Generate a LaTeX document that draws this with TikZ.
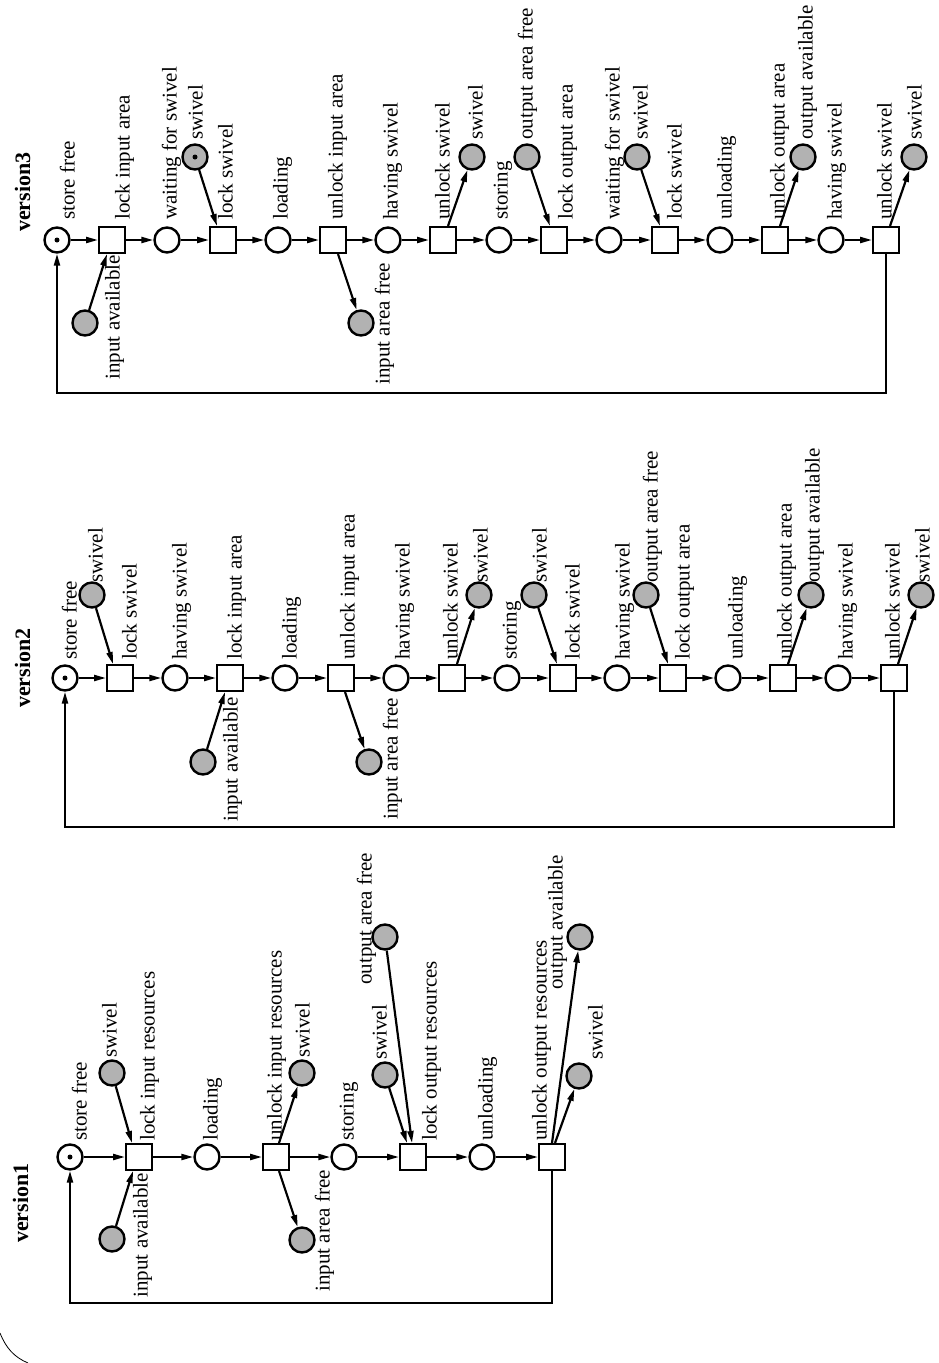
\documentclass[tikz,border=0pt]{standalone}
\usepackage{fontspec}
\setmainfont{Liberation Serif}
\usetikzlibrary{arrows.meta}
\begin{document}
\begin{tikzpicture}[x=1pt,y=-1pt,
  pl/.style={circle,draw,line width=2.4pt,minimum size=25pt,inner sep=0pt,fill=white},
  gpl/.style={pl,fill=black!30},
  tr/.style={rectangle,draw,line width=2.4pt,minimum size=25.6pt,inner sep=0pt,fill=white},
  arc/.style={line width=2.2pt,-{Triangle[length=12pt,width=6pt]}},
  lab/.style={rotate=90,anchor=north west,inner sep=0pt,font=\fontsize{21}{25}\selectfont,text height=14.5pt,text depth=4.6pt},
  labb/.style={lab,anchor=north east},
  ver/.style={lab,font=\fontsize{22}{26}\selectfont\bfseries,text height=15pt},
  tok/.style={circle,fill=black,inner sep=0pt,minimum size=5pt}
]
\useasboundingbox (0,0) rectangle (938,1363);
\draw[line width=0.8pt] (0,1333) .. controls (6,1348) and (14,1357) .. (28,1363);

% ================= version1 =================
\node[ver] (v1) at (13,1243) {version1};
\foreach \x/\s [count=\i from 0] in {70/pl,139/tr,207/pl,276/tr,344/pl,413/tr,482/pl,552/tr}
  \node[\s] (a\i) at (\x,1157) {};
\node[tok] (a0t) at (a0) {};
\foreach \i in {0,...,6} {\pgfmathtruncatemacro\j{\i+1}\draw[arc] (a\i) -- (a\j);}
\foreach \i/\a/\t in {0/72/store free,1/140/lock input resources,2/203/loading,3/267/unlock input resources,4/339/storing,5/422/lock output resources,6/478/unloading,7/532/unlock output resources}
  \node[lab] (al\i) at (\a,1141) {\t};
\node[gpl] (as1) at (112,1073) {};
\node[gpl] (as2) at (112,1239) {};
\node[gpl] (as3) at (302,1073) {};
\node[gpl] (as4) at (302,1240) {};
\node[gpl] (as5) at (385,1075) {};
\node[gpl] (as6) at (385,937) {};
\node[gpl] (as7) at (579,1076) {};
\node[gpl] (as8) at (580,937) {};
\node[lab] (asl1) at (102,1058) {swivel};
\node[labb] (asl2) at (133,1173) {input available};
\node[lab] (asl3) at (295,1058) {swivel};
\node[labb] (asl4) at (315,1170) {input area free};
\node[lab] (asl5) at (372,1060) {swivel};
\node[lab] (asl6) at (357,985) {output area free};
\node[lab] (asl7) at (588,1060) {swivel};
\node[lab] (asl8) at (548,990) {output available};
\draw[arc] (as1) -- ([xshift=-7pt]a1.north);
\draw[arc] (as2) -- ([xshift=-6pt]a1.south);
\draw[arc] ([xshift=3pt]a3.north) -- (as3);
\draw[arc] ([xshift=3pt]a3.south) -- (as4);
\draw[arc] (as5) -- ([xshift=-6pt]a5.north);
\draw[arc] (as6) -- ([xshift=-1pt]a5.north);
\draw[arc] ([xshift=3pt]a7.north) -- (as7);
\draw[arc] (a7.north) -- (as8);
\coordinate (aret) at (70,1303);
\draw[arc] (a7.south) |- (aret) -- (a0.south);

% ================= version2 =================
\node[ver] (v2) at (15,708) {version2};
\foreach \x [count=\i from 0] in {65,120,175,230,285,341,396,452,507,563,617,673,728,783,838,894} {
  \ifodd\i \node[tr] (b\i) at (\x,678) {}; \else \node[pl] (b\i) at (\x,678) {}; \fi
}
\node[tok] (b0t) at (b0) {};
\foreach \i in {0,...,14} {\pgfmathtruncatemacro\j{\i+1}\draw[arc] (b\i) -- (b\j);}
\foreach \i/\a/\t in {0/62/store free,1/122/lock swivel,2/172/having swivel,3/227/lock input area,4/282/loading,5/340/unlock input area,6/395/having swivel,7/443/unlock swivel,8/502/storing,9/565/lock swivel,10/615/having swivel,11/675/lock output area,12/728/unloading,13/777/unlock output area,14/838/having swivel,15/885/unlock swivel}
  \node[lab] (bl\i) at (\a,660) {\t};
\node[gpl] (bs1) at (92,595) {};
\node[gpl] (bs2) at (203,762) {};
\node[gpl] (bs3) at (369,762) {};
\node[gpl] (bs4) at (479,595) {};
\node[gpl] (bs5) at (534,595) {};
\node[gpl] (bs6) at (646,595) {};
\node[gpl] (bs7) at (811,595) {};
\node[gpl] (bs8) at (921,595) {};
\node[lab] (bsl1) at (88,583) {swivel};
\node[labb] (bsl2) at (223,697) {input available};
\node[labb] (bsl3) at (383,698) {input area free};
\node[lab] (bsl4) at (473,583) {swivel};
\node[lab] (bsl5) at (532,583) {swivel};
\node[lab] (bsl6) at (643,583) {output area free};
\node[lab] (bsl7) at (805,583) {output available};
\node[lab] (bsl8) at (915,583) {swivel};
\draw[arc] (bs1) -- ([xshift=-7pt]b1.north);
\draw[arc] (bs2) -- ([xshift=-5pt]b3.south);
\draw[arc] ([xshift=4pt]b5.south) -- (bs3);
\draw[arc] ([xshift=5pt]b7.north) -- (bs4);
\draw[arc] (bs5) -- ([xshift=-6pt]b9.north);
\draw[arc] (bs6) -- ([xshift=-5pt]b11.north);
\draw[arc] ([xshift=5pt]b13.north) -- (bs7);
\draw[arc] ([xshift=4pt]b15.north) -- (bs8);
\coordinate (bret) at (65,827);
\draw[arc] (b15.south) |- (bret) -- (b0.south);

% ================= version3 =================
\node[ver] (v3) at (15,232) {version3};
\foreach \x [count=\i from 0] in {57,112,167,223,278,333,388,443,499,554,609,665,720,775,831,886} {
  \ifodd\i \node[tr] (c\i) at (\x,240) {}; \else \node[pl] (c\i) at (\x,240) {}; \fi
}
\node[tok] (c0t) at (c0) {};
\foreach \i in {0,...,14} {\pgfmathtruncatemacro\j{\i+1}\draw[arc] (c\i) -- (c\j);}
\foreach \i/\a/\t in {0/60/store free,1/115/lock input area,2/162/waiting for swivel,3/218/lock swivel,4/273/loading,5/328/unlock input area,6/383/having swivel,7/435/unlock swivel,8/493/storing,9/558/lock output area,10/605/waiting for swivel,11/667/lock swivel,12/717/unloading,13/770/unlock output area,14/827/having swivel,15/877/unlock swivel}
  \node[lab] (cl\i) at (\a,220) {\t};
\node[gpl] (cs1) at (85,323) {};
\node[gpl] (cs2) at (195,157) {};
\node[tok] (cs2t) at (cs2) {};
\node[gpl] (cs3) at (361,323) {};
\node[gpl] (cs4) at (472,157) {};
\node[gpl] (cs5) at (527,157) {};
\node[gpl] (cs6) at (637,157) {};
\node[gpl] (cs7) at (803,157) {};
\node[gpl] (cs8) at (914,157) {};
\node[labb] (csl1) at (105,255) {input available};
\node[lab] (csl2) at (188,140) {swivel};
\node[labb] (csl3) at (375,263) {input area free};
\node[lab] (csl4) at (468,140) {swivel};
\node[lab] (csl5) at (518,140) {output area free};
\node[lab] (csl6) at (633,140) {swivel};
\node[lab] (csl7) at (798,140) {output available};
\node[lab] (csl8) at (907,140) {swivel};
\draw[arc] (cs1) -- ([xshift=-5pt]c1.south);
\draw[arc] (cs2) -- ([xshift=-6pt]c3.north);
\draw[arc] ([xshift=5pt]c5.south) -- (cs3);
\draw[arc] ([xshift=5pt]c7.north) -- (cs4);
\draw[arc] (cs5) -- ([xshift=-4pt]c9.north);
\draw[arc] (cs6) -- ([xshift=-5pt]c11.north);
\draw[arc] ([xshift=5pt]c13.north) -- (cs7);
\draw[arc] ([xshift=4pt]c15.north) -- (cs8);
\coordinate (cret) at (57,393);
\draw[arc] (c15.south) |- (cret) -- (c0.south);
\end{tikzpicture}
\end{document}
